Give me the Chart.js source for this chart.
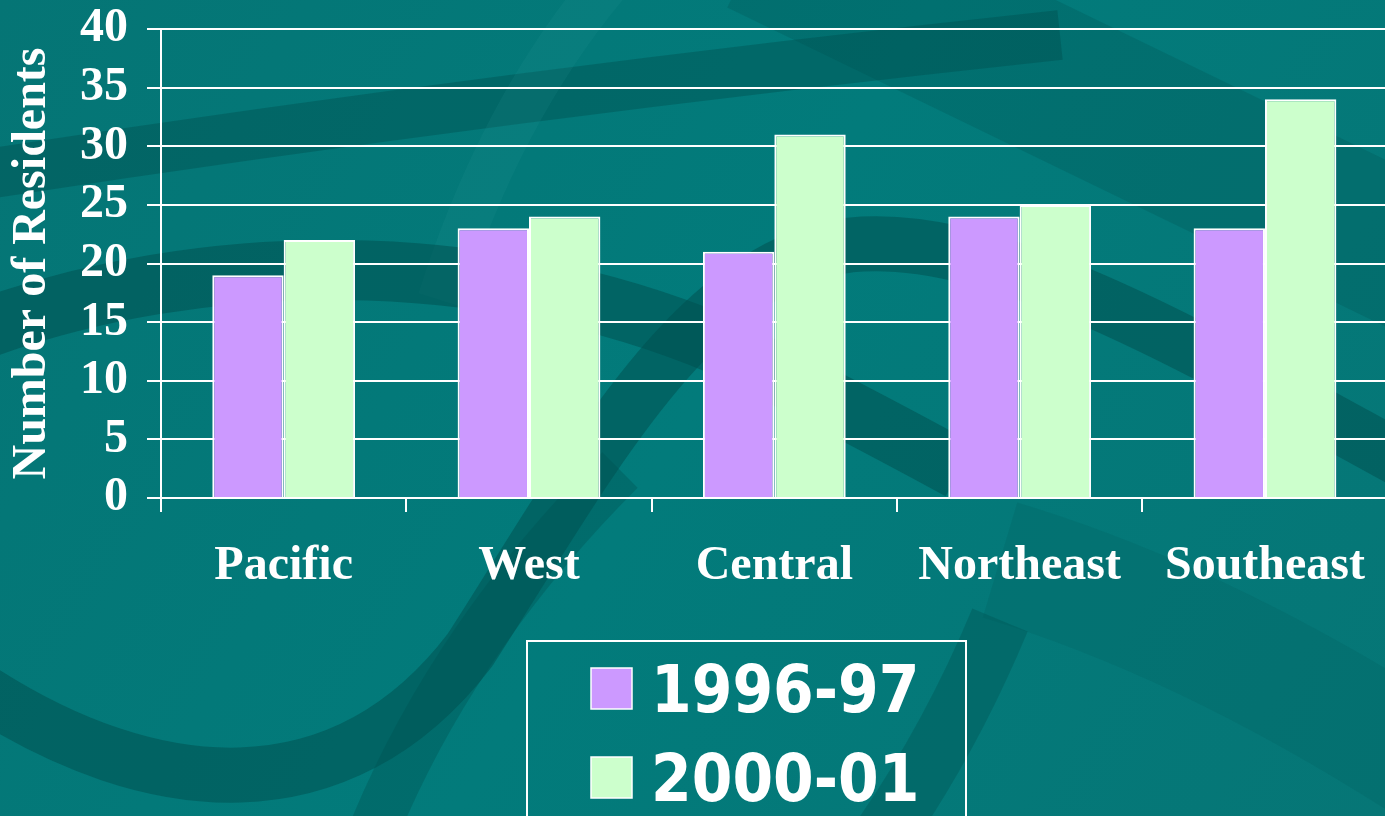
<!DOCTYPE html>
<html>
<head>
<meta charset="utf-8">
<title>Number of Residents by Region</title>
<script src="https://cdn.jsdelivr.net/npm/chart.js@4.4.1/dist/chart.umd.min.js"></script>
<style>
  html, body { margin: 0; padding: 0; background: #037878; overflow: hidden; }
  #wrap { width: 1385px; height: 816px; overflow: hidden; }
</style>
</head>
<body>
<div id="wrap"><canvas id="residentsChart" width="1391" height="816"></canvas></div>
<script>
// data
const regions = ['Pacific', 'West', 'Central', 'Northeast', 'Southeast'];
const residents9697 = [19, 23, 21, 24, 23];
const residents0001 = [22, 24, 31, 25, 34];
const seriesLabels = ['1996-97', '2000-01'];
const seriesColors = ['#CC99FF', '#CCFFCC'];
const yMin = 0;
const yMax = 40;
const yStep = 5;

const serifBold = { family: '"Liberation Serif", "Times New Roman", serif', size: 48, weight: 'bold' };

// teal slide background with the dark swooshes
const slideBackground = {
    id: 'slideBackground',
    beforeDraw(chart) {
        const ctx = chart.ctx;
        ctx.save();
        const g = ctx.createLinearGradient(0, 0, 1385, 816);
        g.addColorStop(0, '#057575');
        g.addColorStop(0.5, '#027b7b');
        g.addColorStop(1, '#067676');
        ctx.fillStyle = g;
        ctx.fillRect(0, 0, chart.width, chart.height);
        ctx.lineCap = 'butt';

        function band(width, color, draw) {
            ctx.beginPath();
            draw();
            ctx.lineWidth = width;
            ctx.strokeStyle = color;
            ctx.stroke();
        }
        const dark = 'rgba(0, 78, 78, 0.5)';
        const light = 'rgba(40, 150, 150, 0.15)';

        // top-right diagonal
        band(150, 'rgba(0, 80, 80, 0.25)', () => { ctx.moveTo(760, -60); ctx.lineTo(1420, 260); });
        // long band rising to the right across the top
        band(50, 'rgba(0, 78, 78, 0.4)', () => { ctx.moveTo(-20, 175); ctx.quadraticCurveTo(500, 95, 1060, 35); });
        // light sweep from the top centre
        band(45, light, () => { ctx.moveTo(610, -20); ctx.quadraticCurveTo(500, 110, 440, 300); });
        // arc behind the Pacific bars
        band(60, dark, () => { ctx.moveTo(-20, 330); ctx.bezierCurveTo(200, 250, 480, 245, 720, 345); ctx.quadraticCurveTo(850, 410, 960, 470); });
        // big curve from bottom left up through the middle and off to the right
        band(55, dark, () => {
            ctx.moveTo(-20, 690);
            ctx.bezierCurveTo(150, 800, 340, 820, 470, 650);
            ctx.bezierCurveTo(580, 480, 690, 265, 850, 245);
            ctx.bezierCurveTo(1000, 230, 1200, 350, 1420, 470);
        });
        // lower band
        band(50, 'rgba(0, 80, 80, 0.35)', () => { ctx.moveTo(370, 840); ctx.quadraticCurveTo(450, 640, 620, 470); });
        // bottom right
        band(60, 'rgba(0, 80, 80, 0.35)', () => { ctx.moveTo(880, 840); ctx.quadraticCurveTo(950, 740, 1000, 620); });
        band(120, 'rgba(0, 90, 90, 0.2)', () => { ctx.moveTo(1000, 560); ctx.quadraticCurveTo(1200, 620, 1420, 760); });
        ctx.restore();
    }
};

// boxed legend under the chart
const boxedLegend = {
    id: 'boxedLegend',
    afterDraw(chart) {
        const ctx = chart.ctx;
        ctx.save();
        ctx.strokeStyle = '#ffffff';
        ctx.lineWidth = 2;
        ctx.strokeRect(527, 641, 439, 220);
        ctx.font = 'bold 65px "DejaVu Sans Condensed", "DejaVu Sans", sans-serif';
        ctx.textBaseline = 'alphabetic';
        ctx.textAlign = 'left';
        chart.data.datasets.forEach((ds, i) => {
            const top = 668 + i * 89;
            ctx.fillStyle = ds.backgroundColor;
            ctx.fillRect(591, top, 41, 41);
            ctx.strokeStyle = '#ffffff';
            ctx.lineWidth = 1.5;
            ctx.strokeRect(591, top, 41, 41);
            ctx.fillStyle = '#ffffff';
            ctx.fillText(ds.label, 651, top + 44);
        });
        ctx.restore();
    }
};

const barChartData = {
    labels: regions,
    datasets: [
        {
            label: seriesLabels[0],
            data: residents9697,
            backgroundColor: seriesColors[0],
            borderColor: '#ffffff',
            borderWidth: 2,
            categoryPercentage: 0.582,
            barPercentage: 1.0
        },
        {
            label: seriesLabels[1],
            data: residents0001,
            backgroundColor: seriesColors[1],
            borderColor: '#ffffff',
            borderWidth: 2,
            categoryPercentage: 0.582,
            barPercentage: 1.0
        }
    ]
};

const barChartConfig = {
    type: 'bar',
    data: barChartData,
    options: {
        responsive: false,
        animation: false,
        layout: { padding: { top: 29, right: 0, bottom: 0, left: 0 } },
        plugins: {
            legend: { display: false },
            tooltip: { enabled: false }
        },
        scales: {
            x: {
                grid: { display: true, drawOnChartArea: false, drawTicks: true, tickLength: 14, color: '#ffffff', lineWidth: 2, offset: true },
                border: { display: true, color: '#ffffff', width: 2 },
                ticks: { color: '#ffffff', font: serifBold, padding: 26, maxRotation: 0, autoSkip: false },
                afterFit: (scale) => { scale.height = 318; }
            },
            y: {
                min: yMin,
                max: yMax,
                ticks: { stepSize: yStep, color: '#ffffff', font: serifBold, padding: 19, autoSkip: false },
                grid: { color: '#ffffff', lineWidth: 2, tickLength: 14 },
                border: { display: true, color: '#ffffff', width: 2 },
                title: { display: true, text: 'Number of Residents', color: '#ffffff', font: serifBold, padding: { top: 4, bottom: 0 } },
                afterFit: (scale) => {
                    scale.width = 161;
                    scale.paddingTop = 0;
                    scale.paddingBottom = 0;
                }
            }
        }
    },
    plugins: [slideBackground, boxedLegend]
};

new Chart(document.getElementById('residentsChart'), barChartConfig);
</script>
</body>
</html>
